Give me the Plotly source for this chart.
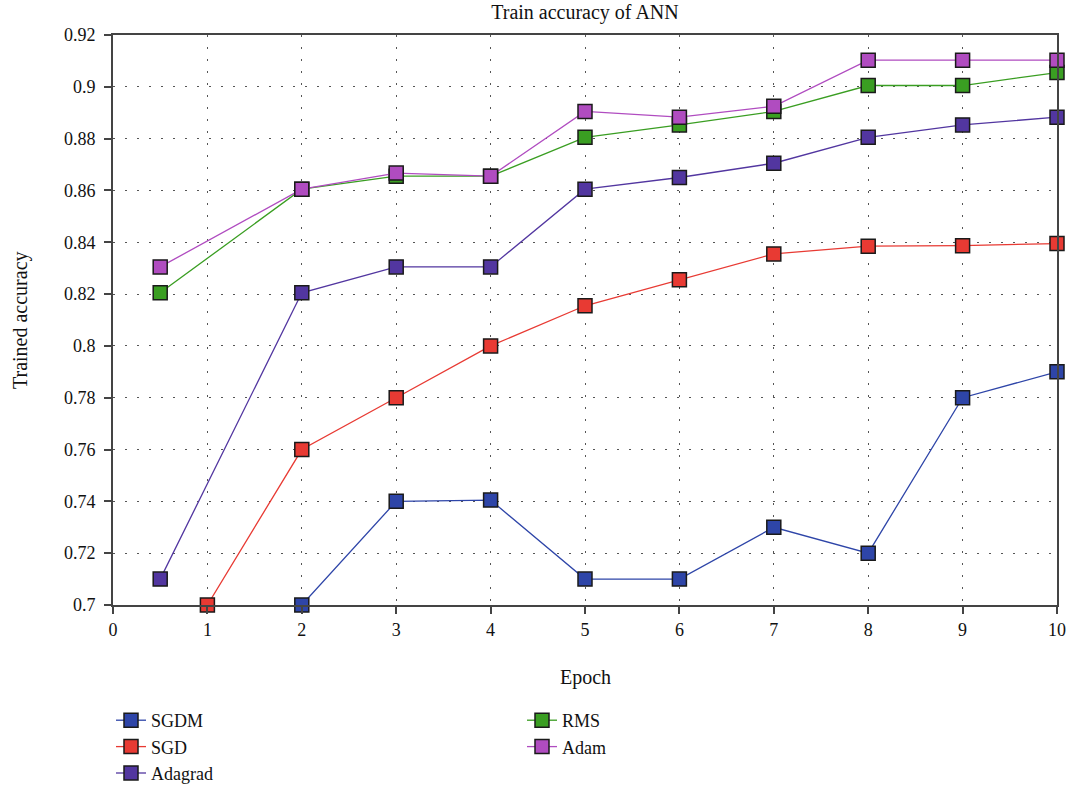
import plotly.graph_objects as go

epochs_full = [2, 3, 4, 5, 6, 7, 8, 9, 10]
sgdm = [0.700, 0.740, 0.7405, 0.710, 0.710, 0.730, 0.720, 0.780, 0.790]

epochs_sgd = [1, 2, 3, 4, 5, 6, 7, 8, 9, 10]
sgd = [0.700, 0.760, 0.780, 0.800, 0.8155, 0.8255, 0.8355, 0.8385, 0.8387, 0.8395]

epochs_half = [0.5, 2, 3, 4, 5, 6, 7, 8, 9, 10]
adagrad = [0.710, 0.8205, 0.8305, 0.8305, 0.8605, 0.8650, 0.8705, 0.8805, 0.8853, 0.8883]
rms = [0.8205, 0.8605, 0.8655, 0.8655, 0.8805, 0.8853, 0.8905, 0.9005, 0.9005, 0.9055]
adam = [0.8305, 0.8605, 0.8667, 0.8655, 0.8905, 0.8883, 0.8925, 0.9103, 0.9103, 0.9103]

series = [
    ("SGDM", epochs_full, sgdm, "#2E45A8", "legend"),
    ("SGD", epochs_sgd, sgd, "#E83A33", "legend"),
    ("Adagrad", epochs_half, adagrad, "#5236A0", "legend"),
    ("RMS", epochs_half, rms, "#3A9E22", "legend2"),
    ("Adam", epochs_half, adam, "#B04CC0", "legend2"),
]

FONT = "Liberation Serif"
W, H = 1068, 791
ML, MR, MT, MB = 113, 11, 35, 186
PW, PH = W - ML - MR, H - MT - MB

fig = go.Figure()
for name, xs, ys, color, lg in series:
    fig.add_trace(go.Scatter(
        x=xs, y=ys, name=name, mode="lines+markers",
        line=dict(color=color, width=1.3),
        marker=dict(symbol="square", size=14, color=color,
                    line=dict(color="#1a1a1a", width=1.5)),
        cliponaxis=False, legend=lg,
    ))

axis_common = dict(
    showline=True, linecolor="#444", linewidth=2, mirror=True,
    ticks="outside", ticklen=7, tickwidth=2, tickcolor="#444",
    showgrid=True, gridcolor="#555", gridwidth=1, griddash="2px,10px",
    zeroline=False, ticklabeloverflow="allow",
    tickfont=dict(family=FONT, size=18, color="#111"),
)

fig.update_xaxes(range=[0, 10], dtick=1, tick0=0, ticklabelstandoff=0, **axis_common)
fig.update_yaxes(range=[0.7, 0.92], dtick=0.02, tick0=0.7, ticklabelstandoff=5, **axis_common)

title_font = dict(family=FONT, size=20, color="#111")
fig.add_annotation(text="Trained accuracy", xref="paper", yref="paper",
                   x=(20 - ML) / PW, y=0.5, xanchor="center", yanchor="middle",
                   textangle=-90, showarrow=False, font=title_font)
fig.add_annotation(text="Epoch", xref="paper", yref="paper",
                   x=0.5, y=(PH + MT - 677) / PH, xanchor="center", yanchor="middle",
                   showarrow=False, font=title_font)

legend_font = dict(family=FONT, size=18, color="#111")
fig.update_layout(
    width=W, height=H,
    margin=dict(l=ML, r=MR, t=MT, b=MB, autoexpand=False),
    paper_bgcolor="white", plot_bgcolor="white",
    font=dict(family=FONT, color="#111"),
    title=dict(text="Train accuracy of ANN", x=585 / W, xanchor="center", xref="container",
               yref="container", y=1 - 12 / H, yanchor="middle",
               font=dict(family=FONT, size=20, color="#111")),
    legend=dict(xref="container", yref="container", x=111 / W, y=1 - 702 / H,
                xanchor="left", yanchor="top", font=legend_font,
                bgcolor="rgba(0,0,0,0)", tracegroupgap=0),
    legend2=dict(xref="container", yref="container", x=522 / W, y=1 - 702 / H,
                 xanchor="left", yanchor="top", font=legend_font,
                 bgcolor="rgba(0,0,0,0)", tracegroupgap=0),
    showlegend=True,
)

fig.write_html("out.html", config={"displayModeBar": False},
               post_script="document.body.style.margin='0px';")
